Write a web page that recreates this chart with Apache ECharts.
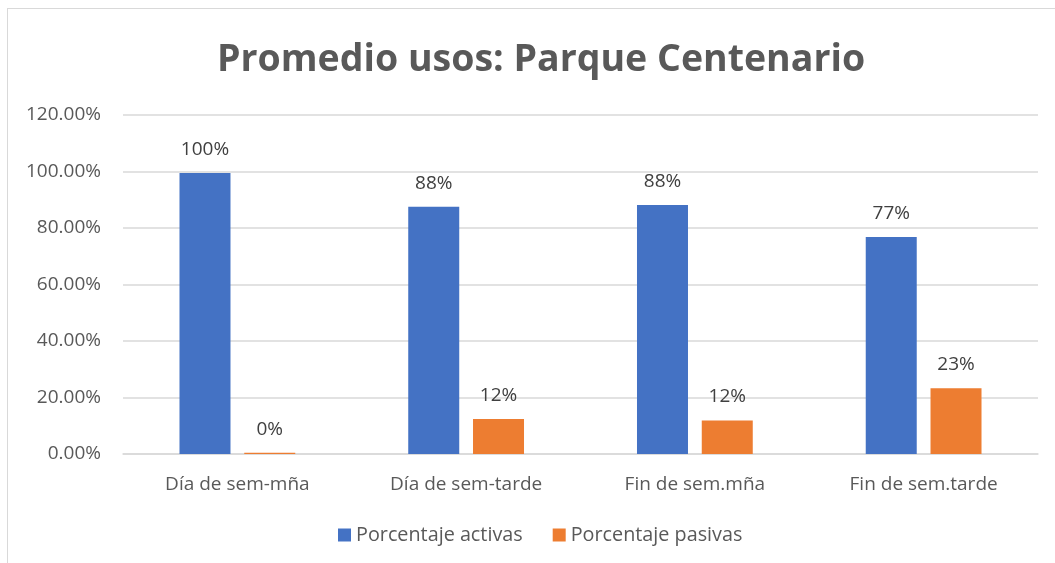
<!DOCTYPE html>
<html>
<head>
<meta charset="utf-8">
<script src="https://cdn.jsdelivr.net/npm/echarts@6/dist/echarts.min.js"></script>
<style>
  html, body { margin: 0; padding: 0; background: #fff; }
  #frame { position: absolute; left: 7px; top: 8px; width: 1100px; height: 600px; border: 1px solid #d9d9d9; }
  #chart { position: absolute; left: 0; top: 0; width: 1055px; height: 563px; }
</style>
</head>
<body>
<div id="frame"></div>
<div id="chart"></div>
<script>
var categories = ['Día de sem-mña', 'Día de sem-tarde', 'Fin de sem.mña', 'Fin de sem.tarde'];
var activas = [99.5, 87.5, 88.1, 76.8];
var pasivas = [0.4, 12.4, 11.9, 23.3];
var yTicks = [0, 20, 40, 60, 80, 100, 120];

var myChart = echarts.init(document.getElementById('chart'));
var labelStyle = {
    show: true,
    position: 'top',
    distance: 14,
    color: '#404040',
    fontSize: 19,
    fontFamily: 'Open Sans',
    formatter: function (p) { return Math.round(p.value) + '%'; }
};
var option = {
    animation: false,
    title: {
        text: 'Promedio usos: Parque Centenario',
        left: 212,
        top: 36,
        textStyle: { color: '#595959', fontSize: 37.5, fontWeight: 'bold', fontFamily: 'Open Sans' }
    },
    legend: {
        top: 520,
        left: 333,
        itemWidth: 13,
        itemHeight: 13,
        itemGap: 30,
        icon: 'rect',
        textStyle: { color: '#595959', fontSize: 19.8, fontFamily: 'Open Sans' },
        data: ['Porcentaje activas', 'Porcentaje pasivas']
    },
    grid: { left: 123, right: 17, top: 115, bottom: 109 },
    xAxis: {
        type: 'category',
        data: categories,
        axisTick: { show: false },
        axisLine: { lineStyle: { color: '#d9d9d9', width: 1.5 } },
        axisLabel: { color: '#595959', fontSize: 19, fontFamily: 'Open Sans', margin: 21 }
    },
    yAxis: {
        type: 'value',
        min: yTicks[0],
        max: yTicks[yTicks.length - 1],
        interval: 20,
        axisLine: { show: false },
        axisTick: { show: false },
        splitLine: { lineStyle: { color: '#d9d9d9', width: 1.5 } },
        axisLabel: {
            color: '#595959', fontSize: 19, fontFamily: 'Open Sans', margin: 22,
            formatter: function (v) { return v.toFixed(2) + '%'; }
        }
    },
    series: [
        {
            name: 'Porcentaje activas',
            type: 'bar',
            data: activas,
            barWidth: 51,
            barGap: '27%',
            itemStyle: { color: '#4472c4' },
            label: labelStyle
        },
        {
            name: 'Porcentaje pasivas',
            type: 'bar',
            data: pasivas,
            barWidth: 51,
            itemStyle: { color: '#ed7d31' },
            label: labelStyle
        }
    ]
};
myChart.setOption(option);
</script>
</body>
</html>
